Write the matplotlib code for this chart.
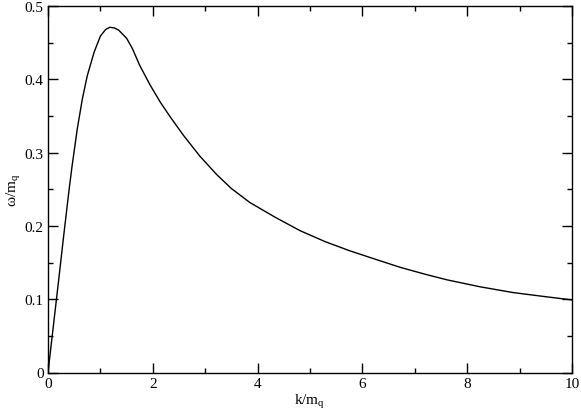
import matplotlib
matplotlib.use("Agg")
import matplotlib.pyplot as plt
from matplotlib.ticker import MultipleLocator, FuncFormatter

# curve (k/m_q, omega/m_q)
k_vals = [0, 0.1, 0.2, 0.3, 0.4, 0.46, 0.56, 0.655, 0.75, 0.88, 1.0, 1.1,
          1.18, 1.27, 1.35, 1.5, 1.61, 1.75, 1.95, 2.15, 2.33, 2.58, 2.9,
          3.22, 3.5, 3.85, 4.33, 4.81, 5.29, 5.76, 6.24, 6.72, 7.2, 7.61,
          8.24, 8.88, 9.52, 10.0]
w_vals = [0, 0.062, 0.124, 0.187, 0.248, 0.282, 0.333, 0.373, 0.405, 0.437,
          0.459, 0.468, 0.471, 0.470, 0.467, 0.456, 0.442, 0.419, 0.392,
          0.368, 0.349, 0.324, 0.295, 0.270, 0.251, 0.232, 0.212, 0.1935,
          0.1785, 0.166, 0.1547, 0.1435, 0.134, 0.1265, 0.117, 0.109,
          0.1032, 0.099]

x_ticks = [0, 2, 4, 6, 8, 10]
y_ticks = [0, 0.1, 0.2, 0.3, 0.4, 0.5]

plt.rcParams["font.family"] = ["Liberation Serif", "DejaVu Serif"]
plt.rcParams["mathtext.default"] = "regular"

fig = plt.figure(figsize=(5.81, 4.14), dpi=100)
ax = fig.add_axes([48 / 581, (414 - 373.5) / 414, (572 - 48) / 581, (373.5 - 7) / 414])

ax.plot(k_vals, w_vals, color="black", lw=1.0)

ax.set_xlim(0, 10)
ax.set_ylim(0, 0.5)
ax.set_xticks(x_ticks)
ax.set_yticks(y_ticks)
ax.xaxis.set_minor_locator(MultipleLocator(1))
ax.yaxis.set_minor_locator(MultipleLocator(0.05))
ax.yaxis.set_major_formatter(FuncFormatter(lambda v, p: "0" if v == 0 else "%.1f" % v))

ax.tick_params(which="both", direction="in", top=True, right=True, width=1.0,
               labelsize=11)
ax.tick_params(which="major", length=7)
ax.tick_params(which="minor", length=3.5)
ax.tick_params(axis="y", pad=3)
ax.tick_params(axis="x", pad=3)
for s in ax.spines.values():
    s.set_linewidth(1.0)

ax.set_xlabel("k/m$_q$", fontsize=11, labelpad=2)
ax.set_ylabel("ω/m$_q$", fontsize=11, labelpad=1)

fig.savefig("out.png", dpi=100)
